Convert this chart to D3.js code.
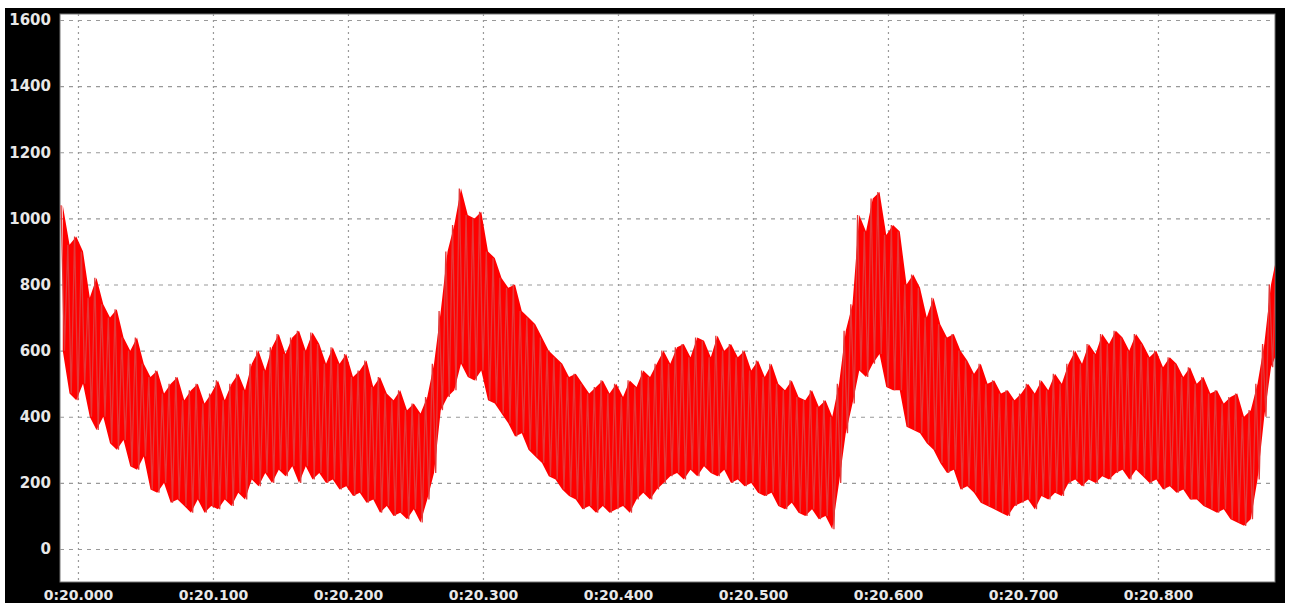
<!DOCTYPE html>
<html>
<head>
<meta charset="utf-8">
<script src="https://cdn.jsdelivr.net/npm/d3@7"></script>
<style>
html,body{margin:0;padding:0;background:#fff;}
svg{display:block;}
</style>
</head>
<body>
<svg id="chart" width="1292" height="603"></svg>
<script>
// ---- data (ms after 0:20.000, 5 ms steps starting at -12.5 ms) ----
const startMs = -12.5;
const stepMs = 5;
const hiValues = [1040,920,945,900,760,820,740,700,725,640,600,640,560,520,540,470,500,520,450,480,
  500,440,470,510,450,500,530,480,560,600,540,610,650,590,640,660,600,655,620,560,
  610,560,590,520,540,570,490,520,470,450,480,420,440,410,460,560,720,900,980,1090,
  1010,1000,1020,900,880,820,790,800,720,700,680,640,600,580,560,520,530,500,470,490,
  510,470,500,460,510,490,540,520,560,600,560,610,620,580,640,630,580,645,600,620,
  580,600,540,570,520,560,500,480,510,460,450,480,430,450,400,500,660,740,1010,960,
  1060,1080,950,980,960,800,830,790,700,760,680,640,650,600,570,530,560,500,510,470,
  480,450,470,500,470,510,480,530,500,560,600,560,620,590,650,620,660,640,600,650,
  620,580,600,550,580,560,520,550,500,520,470,480,440,460,470,400,420,500,620,800,900];
const loValues = [600,470,450,500,400,360,400,320,300,330,250,240,280,180,170,200,140,150,130,110,
  150,110,130,120,150,130,170,150,210,190,230,200,240,220,250,200,250,210,230,200,
  210,180,190,160,170,140,150,110,130,100,110,90,120,80,150,230,420,460,480,560,
  520,510,540,450,440,410,380,340,350,300,280,260,220,210,180,160,150,120,130,110,
  130,110,120,130,110,150,170,150,180,200,220,230,210,240,220,250,230,220,240,200,
  210,190,200,170,160,170,130,120,140,110,100,120,90,100,60,200,350,440,540,520,
  560,590,490,480,480,370,360,350,320,300,260,230,240,180,190,170,140,130,120,110,
  100,130,140,150,120,160,150,170,160,200,210,190,210,200,220,210,230,240,210,240,
  220,200,210,180,190,170,180,150,150,130,120,110,120,90,80,70,90,210,400,550,600];
const xTickValues = [0,100,200,300,400,500,600,700,800];
const xTickLabels = ["0:20.000","0:20.100","0:20.200","0:20.300","0:20.400","0:20.500","0:20.600","0:20.700","0:20.800"];
const yTickValues = [0,200,400,600,800,1000,1200,1400,1600];

const rows = hiValues.map((h, i) => ({t: startMs + i * stepMs, hi: h, lo: loValues[i]}));
// zigzag samples (hi at t, lo at t + half step)
const samples = [];
rows.forEach(r => {
  samples.push({t: r.t, v: r.hi});
  samples.push({t: r.t + stepMs / 2, v: r.lo});
});

const svg = d3.select("#chart");
const plot = {left: 60, right: 1275, top: 14, bottom: 582};

// outer black frame
svg.append("rect").attr("x", 5).attr("y", 8).attr("width", 1280).attr("height", 603 - 8).attr("fill", "#000");
svg.append("rect").attr("x", plot.left).attr("y", plot.top)
  .attr("width", plot.right - plot.left).attr("height", plot.bottom - plot.top)
  .attr("fill", "#fff").attr("stroke", "#777").attr("stroke-width", 1);

const x = d3.scaleLinear().domain([-13.3, 886.7]).range([plot.left, plot.right]);
const y = d3.scaleLinear().domain([0, 1600]).range([549, 20]);

svg.append("defs").append("clipPath").attr("id", "clip")
  .append("rect").attr("x", plot.left).attr("y", plot.top)
  .attr("width", plot.right - plot.left).attr("height", plot.bottom - plot.top);

// grid
const grid = svg.append("g").attr("clip-path", "url(#clip)");
grid.selectAll("line.h").data(yTickValues).join("line")
  .attr("class", "h")
  .attr("x1", plot.left).attr("x2", plot.right)
  .attr("y1", d => y(d) + 0.5).attr("y2", d => y(d) + 0.5)
  .attr("stroke", "#999").attr("stroke-width", 1.2).attr("stroke-dasharray", "4,5");
grid.selectAll("line.v").data(xTickValues).join("line")
  .attr("class", "v")
  .attr("x1", d => x(d) + 0.5).attr("x2", d => x(d) + 0.5)
  .attr("y1", plot.top).attr("y2", plot.bottom)
  .attr("stroke", "#999").attr("stroke-width", 1.2).attr("stroke-dasharray", "2,4");

// signal: solid band + fine spikes
const g = svg.append("g").attr("clip-path", "url(#clip)");
const area = d3.area().x(d => x(d.t + stepMs / 4)).y0(d => y(d.lo)).y1(d => y(d.hi));
g.append("path").datum(rows)
  .attr("d", area)
  .attr("fill", "#f00");
const line = d3.line().x(d => x(d.t)).y(d => y(d.v));
g.append("path").datum(samples)
  .attr("d", line)
  .attr("fill", "none")
  .attr("stroke", "#e23a3a")
  .attr("stroke-width", 1.3);

// y axis labels
const yAxis = d3.axisLeft(y).tickValues(yTickValues).tickFormat(d3.format("d")).tickSize(0).tickPadding(0);
const gy = svg.append("g").attr("transform", "translate(51,0)").call(yAxis);
gy.select(".domain").remove();
gy.selectAll("text")
  .attr("fill", "#e8e8e8")
  .style("font-family", "'DejaVu Sans', Verdana, sans-serif")
  .style("font-weight", "bold")
  .style("font-size", "15px");

// x axis labels
const xAxis = d3.axisBottom(x).tickValues(xTickValues)
  .tickFormat((d, i) => xTickLabels[i]).tickSize(0).tickPadding(0);
const gx = svg.append("g").attr("transform", "translate(0,590)").call(xAxis);
gx.select(".domain").remove();
gx.selectAll("text")
  .attr("fill", "#e8e8e8")
  .attr("dy", "0.71em")
  .style("font-family", "'DejaVu Sans', Verdana, sans-serif")
  .style("font-weight", "bold")
  .style("font-size", "14px");
</script>
</body>
</html>
